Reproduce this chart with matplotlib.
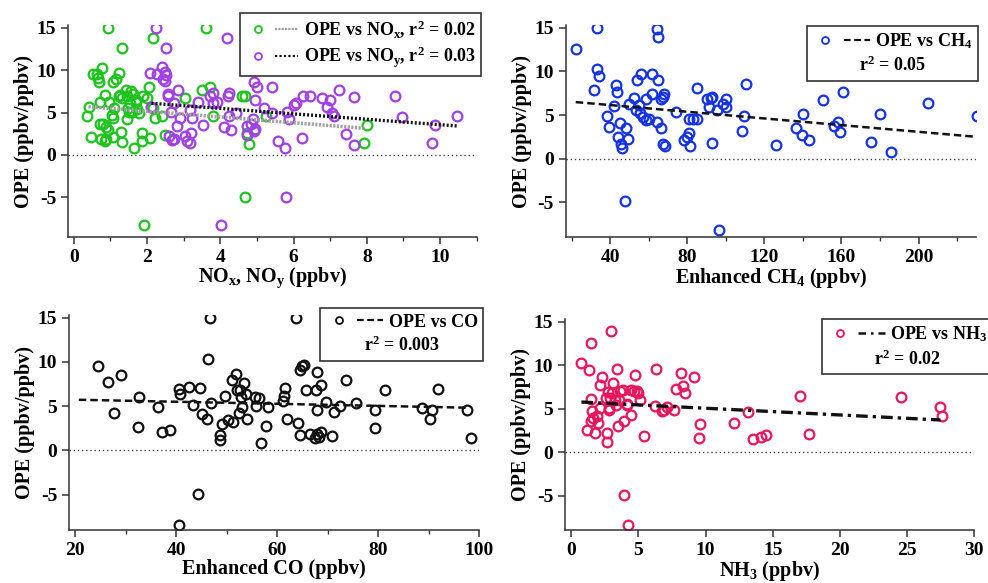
import matplotlib
matplotlib.use('Agg')
import matplotlib.pyplot as plt
from matplotlib.legend_handler import HandlerTuple
from matplotlib.lines import Line2D
from matplotlib.ticker import MultipleLocator

plt.rcParams['font.family'] = ['Liberation Serif', 'DejaVu Serif']
plt.rcParams['font.weight'] = 'bold'
plt.rcParams['axes.labelweight'] = 'bold'
plt.rcParams['axes.unicode_minus'] = False
plt.rcParams['mathtext.fontset'] = 'custom'
plt.rcParams['mathtext.rm'] = 'Liberation Serif:bold'
plt.rcParams['mathtext.it'] = 'Liberation Serif:bold:italic'
plt.rcParams['mathtext.bf'] = 'Liberation Serif:bold'
plt.rcParams['mathtext.default'] = 'rm'

# ---- panel a: OPE vs NOx / NOy ----
nox_x = [0.37, 0.42, 0.46, 0.51, 0.62, 0.67, 0.68, 0.78, 0.86, 0.71, 0.95, 0.71, 0.80, 0.87,
         0.94, 0.75, 0.84, 0.87, 1.06, 1.07, 1.15, 1.24, 1.24, 1.07, 1.28, 1.32, 1.42, 1.46,
         1.55, 1.44, 1.53, 1.59, 1.47, 1.64, 1.71, 1.73, 1.89, 1.99, 1.85, 1.85, 2.06, 2.09,
         2.15, 2.21, 2.49, 2.42, 3.03, 3.49, 3.73, 3.81, 4.58, 4.67, 4.72, 4.79, 4.67, 1.91,
         0.94, 3.60, 2.15, 1.32, 5.26, 8.00, 7.93, 1.11, 1.50, 1.78, 1.61, 1.25, 1.32, 1.70, 1.05]
nox_ope = [4.6, 5.6, 2.1, 9.5, 9.5, 9.1, 8.6, 10.3, 7.1, 6.2, 6.2, 3.65, 3.65, 3.3,
           2.9, 1.85, 1.6, 1.85, 4.3, 8.6, 9.0, 9.7, 6.9, 2.15, 2.75, 1.55, 7.7, 6.9,
           7.5, 4.2, 6.1, 5.1, 5.5, 0.8, 6.5, 5.4, 6.9, 6.7, 2.6, 1.7, 8.0, 1.95,
           5.5, 4.3, 2.35, 4.6, 6.7, 7.6, 8.0, 4.6, 6.9, 6.9, 2.55, 1.26, -4.9, -8.3,
           15.0, 14.9, 13.8, 12.6, 4.6, 3.5, 1.45, 5.5, 5.1, 5.0, 7.2, 7.1, 6.7, 6.2, 4.7]

noy_x = [2.23, 4.17, 2.53, 2.42, 2.08, 2.26, 2.50, 2.53, 2.44, 2.50, 2.58, 2.56, 2.85, 2.74,
         2.64, 2.81, 2.90, 3.03, 3.08, 3.17, 2.60, 2.67, 2.73, 3.17, 3.24, 3.40, 3.20, 3.52,
         3.72, 3.81, 3.79, 3.90, 4.10, 4.28, 4.20, 4.23, 4.24, 4.44, 4.72, 4.83, 4.90, 4.74,
         4.92, 4.95, 4.92, 4.99, 4.95, 5.40, 5.19, 5.40, 5.58, 5.77, 5.81, 5.88, 6.01, 6.06,
         6.22, 6.25, 6.45, 6.77, 6.99, 6.90, 7.04, 7.11, 7.24, 7.43, 7.66, 7.66, 8.77, 8.95,
         9.85, 9.79, 10.47, 5.79, 4.03, 2.12]
noy_ope = [15.0, 13.8, 12.6, 10.4, 9.6, 9.5, 9.8, 9.4, 9.0, 8.7, 7.2, 6.9, 7.7, 6.1,
           5.1, 3.4, 4.3, 2.2, 1.6, 1.45, 2.2, 1.75, 1.85, 5.3, 4.3, 6.2, 2.6, 3.5,
           6.9, 7.3, 6.1, 6.2, 3.3, 3.0, 7.0, 7.3, 4.6, 4.9, 3.4, 3.7, 4.2, 2.35,
           2.8, 3.1, 8.6, 8.0, 6.5, 8.0, 5.5, 4.9, 1.7, 0.8, 5.1, 4.2, 5.9, 6.1,
           2.0, 6.9, 7.0, 6.7, 6.5, 5.6, 4.9, 4.6, 7.6, 2.5, 6.8, 1.2, 6.9, 4.5,
           3.5, 1.45, 4.6, -4.9, -8.3, 5.7]

nox_fit_x = [0.4, 7.95]
nox_fit_y = [5.69, 3.14]
noy_fit_x = [2.12, 10.46]
noy_fit_y = [6.09, 3.42]

# ---- panel b: OPE vs enhanced CH4 ----
ch4_x = [22.2, 33.1, 33.4, 34.3, 31.7, 38.6, 39.5, 43.3, 43.5, 42.1, 45.0, 44.2, 45.5, 46.1,
         48.5, 49.3, 49.9, 52.5, 53.8, 55.9, 53.3, 55.0, 55.6, 57.3, 58.5, 60.2, 58.7, 62.0,
         62.0, 64.6, 65.1, 65.1, 64.2, 66.3, 67.7, 68.0, 66.6, 67.5, 68.4, 74.1, 85.3, 80.7,
         83.1, 85.3, 78.4, 79.8, 81.0, 81.5, 90.5, 92.2, 93.1, 91.4, 95.7, 93.1, 98.8, 100.0,
         100.0, 110.4, 109.5, 108.2, 126.0, 136.4, 140.3, 139.8, 143.3, 150.7, 160.6, 158.0,
         156.2, 159.4, 175.3, 180.1, 185.6, 204.7, 230.3, 47.8, 96.6]
ch4_ope = [12.6, 15.0, 10.3, 9.5, 7.9, 4.9, 3.6, 8.5, 7.7, 6.0, 4.1, 2.5, 1.7, 1.2,
           3.5, 2.3, 6.3, 7.0, 9.0, 9.7, 5.6, 6.1, 5.2, 4.8, 4.4, 4.6, 6.9, 9.7,
           7.4, 14.9, 13.9, 9.0, 4.2, 6.8, 7.1, 7.4, 3.5, 1.7, 1.5, 5.4, 8.1, 4.6,
           4.5, 4.6, 2.1, 2.5, 3.0, 1.45, 6.8, 7.0, 7.1, 5.9, 5.6, 1.8, 6.3, 6.8,
           5.9, 8.6, 4.9, 3.2, 1.6, 3.5, 5.1, 2.7, 2.1, 6.7, 7.6, 4.2,
           3.7, 3.1, 1.9, 5.1, 0.8, 6.4, 4.9, -4.85, -8.2]
ch4_fit_x = [22.2, 229.4]
ch4_fit_y = [6.49, 2.52]

# ---- panel c: OPE vs enhanced CO ----
co_x = [24.6, 26.5, 27.7, 29.0, 32.6, 32.5, 36.4, 37.2, 38.8, 40.5, 40.7, 42.6, 43.4, 44.8,
        45.2, 46.2, 46.6, 46.4, 46.8, 44.4, 40.5, 48.7, 48.7, 49.0, 49.7, 50.2, 51.1, 51.2,
        51.8, 52.1, 52.6, 52.5, 52.8, 53.1, 53.5, 53.8, 54.1, 55.6, 55.9, 56.5, 56.9, 57.7,
        58.1, 61.2, 61.4, 61.6, 61.9, 63.7, 64.1, 64.5, 64.6, 65.0, 65.3, 65.8, 66.6, 67.5,
        67.9, 68.3, 68.6, 67.9, 67.7, 68.0, 68.6, 69.7, 70.8, 71.3, 72.4, 73.6, 75.6, 79.4,
        79.4, 81.4, 88.8, 90.7, 90.3, 91.9, 97.7, 98.4]
co_ope = [9.5, 7.7, 4.2, 8.5, 6.0, 2.6, 4.9, 2.1, 2.3, 6.9, 6.4, 7.2, 5.1, 7.0,
          4.1, 3.5, 15.0, 10.3, 5.3, -4.9, -8.4, 1.7, 1.2, 3.0, 6.1, 3.4, 7.9, 3.2,
          8.6, 6.8, 6.8, 4.2, 6.0, 4.9, 7.6, 6.4, 3.5, 6.0, 5.0, 5.9, 0.8, 2.75,
          4.9, 5.6, 6.1, 7.0, 3.6, 15.0, 3.05, 1.7, 9.1, 9.5, 9.6, 6.8, 1.85, 1.35,
          1.85, 1.55, 2.1, 8.9, 6.8, 4.6, 7.4, 5.5, 1.65, 4.3, 5.0, 8.0, 5.4, 4.6,
          2.5, 6.8, 4.75, 4.6, 3.6, 6.9, 4.6, 1.45]
co_fit_x = [20.7, 97.9]
co_fit_y = [5.72, 4.82]

# ---- panel d: OPE vs NH3 ----
nh3_x = [0.75, 1.32, 1.44, 2.93, 1.14, 1.44, 1.51, 1.49, 1.76, 1.94, 1.99, 2.14, 2.14, 2.31,
         2.56, 2.63, 2.63, 2.81, 2.88, 3.10, 3.05, 3.38, 3.35, 3.48, 3.63, 3.55, 3.87, 3.92,
         4.12, 4.17, 4.42, 4.47, 4.67, 4.87, 4.97, 4.72, 5.09, 5.41, 6.31, 6.26, 6.78, 6.90,
         7.10, 7.65, 7.77, 8.15, 8.32, 8.44, 9.14, 9.56, 9.54, 12.12, 13.16, 13.51, 14.10,
         14.48, 17.04, 17.71, 24.53, 27.46, 27.59, 3.92, 4.25, 1.64, 2.83, 2.76, 3.26]
nh3_ope = [10.3, 9.5, 12.6, 13.9, 2.6, 6.1, 4.7, 3.6, 2.2, 4.2, 3.4, 5.05, 7.7, 8.6,
           6.2, 2.25, 1.2, 5.05, 6.2, 8.0, 6.85, 9.6, 5.4, 3.0, 7.0, 6.0, 7.2, 3.6,
           5.6, 5.4, 4.3, 7.2, 7.0, 7.0, 6.8, 8.9, 6.0, 1.9, 9.6, 5.3, 4.7, 4.9,
           5.2, 4.9, 7.3, 9.1, 7.6, 6.8, 8.6, 3.25, 1.6, 3.4, 4.6, 1.5, 1.8,
           2.0, 6.5, 2.1, 6.4, 5.2, 4.2, -4.9, -8.3, 3.9, 4.9, 6.9, 6.0]
nh3_fit_x = [0.75, 27.5]
nh3_fit_y = [5.77, 3.71]

green, purple, blue, pink, black = '#1ec41e', '#a040e6', '#1432e6', '#e8175d', '#111111'
nox_ls, noy_ls = (0, (0.6, 0.4)), (0, (0.6, 0.6))
dash_ls, dashdot_ls = (0, (3, 1.6)), (0, (3.5, 1.5, 1, 1.5))

fig = plt.figure(figsize=(9.88, 5.83), dpi=100)
ax1 = fig.add_axes([0.0688, 0.5935, 0.4137, 0.3636])
ax2 = fig.add_axes([0.5726, 0.5930, 0.4156, 0.3641])
ax3 = fig.add_axes([0.0698, 0.0909, 0.4150, 0.3688])
ax4 = fig.add_axes([0.5719, 0.0909, 0.4140, 0.3619])

mk = dict(linestyle='none', marker='o', mfc='none', ms=7, mew=1.6)
tup = {tuple: HandlerTuple(ndivide=None, pad=0.28)}
leg_kw = dict(fontsize=13, frameon=True, fancybox=False, edgecolor='#333333',
              framealpha=1, borderaxespad=0, handletextpad=0.3,
              borderpad=0.3, labelspacing=0.28, handler_map=tup)


def key(color, ls, lw):
    # small marker + thin fit line, as drawn in the legend boxes
    m = Line2D([], [], linestyle='none', marker='o', mfc='none', mec=color, ms=5, mew=1.3)
    ln = Line2D([], [], color=ls[0], lw=lw, ls=ls[1])
    return (m, ln)


def style_axes(ax, xlim, ylim, xmajor, xminor, xlabel):
    ax.set_xlim(*xlim)
    ax.set_ylim(*ylim)
    ax.spines[['top', 'right']].set_visible(False)
    for s in ('left', 'bottom'):
        ax.spines[s].set_linewidth(1.1)
        ax.spines[s].set_color('#333333')
    ax.xaxis.set_major_locator(MultipleLocator(xmajor))
    if xminor:
        ax.xaxis.set_minor_locator(MultipleLocator(xminor))
    ax.yaxis.set_major_locator(MultipleLocator(5))
    ax.tick_params(which='major', direction='out', length=5, width=1.1,
                   color='#333333', labelsize=14)
    ax.tick_params(which='minor', direction='out', length=3, width=1.0, color='#333333')
    for t in ax.get_xticklabels() + ax.get_yticklabels():
        t.set_fontweight('bold')
    ax.axhline(0, color='#444444', lw=1.0, ls=(0, (1, 2)), zorder=0)
    ax.set_xlabel(xlabel, fontsize=14.5, fontweight='bold', labelpad=0)
    ax.set_ylabel('OPE (ppbv/ppbv)', fontsize=14.5, fontweight='bold', labelpad=2)


# panel a
ax1.plot(nox_x, nox_ope, mec=green, **mk)
ax1.plot(noy_x, noy_ope, mec=purple, **mk)
ax1.plot(nox_fit_x, nox_fit_y, color='#a0a0a0', lw=2.6, ls=nox_ls)
ax1.plot(noy_fit_x, noy_fit_y, color=black, lw=2.4, ls=noy_ls)
style_axes(ax1, (-0.16, 11.0), (-9.66, 15.31), 2, 1, 'NO$_x$, NO$_y$ (ppbv)')
leg1 = ax1.legend([key(green, ('#a0a0a0', (0, (1, 0.5))), 1.6),
                   key(purple, (black, (0, (1, 1))), 1.6)],
                  ['OPE vs NO$_x$, r$^2$ = 0.02', 'OPE vs NO$_y$, r$^2$ = 0.03'],
                  loc='upper right', bbox_to_anchor=(1.0105, 1.058), handlelength=2.9, **leg_kw)

# panel b
ax2.plot(ch4_x, ch4_ope, mec=blue, **mk)
ax2.plot(ch4_fit_x, ch4_fit_y, color=black, lw=1.8, ls=dash_ls)
style_axes(ax2, (17.0, 230.0), (-9.0, 15.32), 40, 20, 'Enhanced CH$_4$ (ppbv)')
leg2 = ax2.legend([key(blue, (black, dash_ls), 1.6)], ['OPE vs CH$_4$'],
                  title='r$^2$ = 0.05', title_fontsize=13,
                  loc='upper right', bbox_to_anchor=(1.004, 0.997), handlelength=3.2, **leg_kw)

# panel c
ax3.plot(co_x, co_ope, mec=black, **mk)
ax3.plot(co_fit_x, co_fit_y, color=black, lw=1.8, ls=dash_ls)
style_axes(ax3, (18.75, 100.0), (-9.0, 15.3), 20, 10, 'Enhanced CO (ppbv)')
leg3 = ax3.legend([key(black, (black, dash_ls), 1.6)], ['OPE vs CO'],
                  title='r$^2$ = 0.003', title_fontsize=13,
                  loc='upper right', bbox_to_anchor=(1.0105, 1.031), handlelength=3.2, **leg_kw)

# panel d
ax4.plot(nh3_x, nh3_ope, mec=pink, **mk)
ax4.plot(nh3_fit_x, nh3_fit_y, color=black, lw=2.4, ls=dashdot_ls)
style_axes(ax4, (-0.47, 30.0), (-8.92, 15.3), 5, None, 'NH$_3$ (ppbv)')
leg4 = ax4.legend([key(pink, (black, (0, (3, 2, 1, 2))), 1.8)], ['OPE vs NH$_3$'],
                  title='r$^2$ = 0.02', title_fontsize=13,
                  loc='upper left', bbox_to_anchor=(0.627, 0.999), handlelength=3.2, **leg_kw)

# put the r^2 line under the entry, as in the figure
for lg in (leg2, leg3, leg4):
    lg._legend_box.get_children().reverse()
for lg in (leg1, leg2, leg3, leg4):
    lg.get_frame().set_linewidth(1.2)

fig.savefig('out.png', dpi=100)
